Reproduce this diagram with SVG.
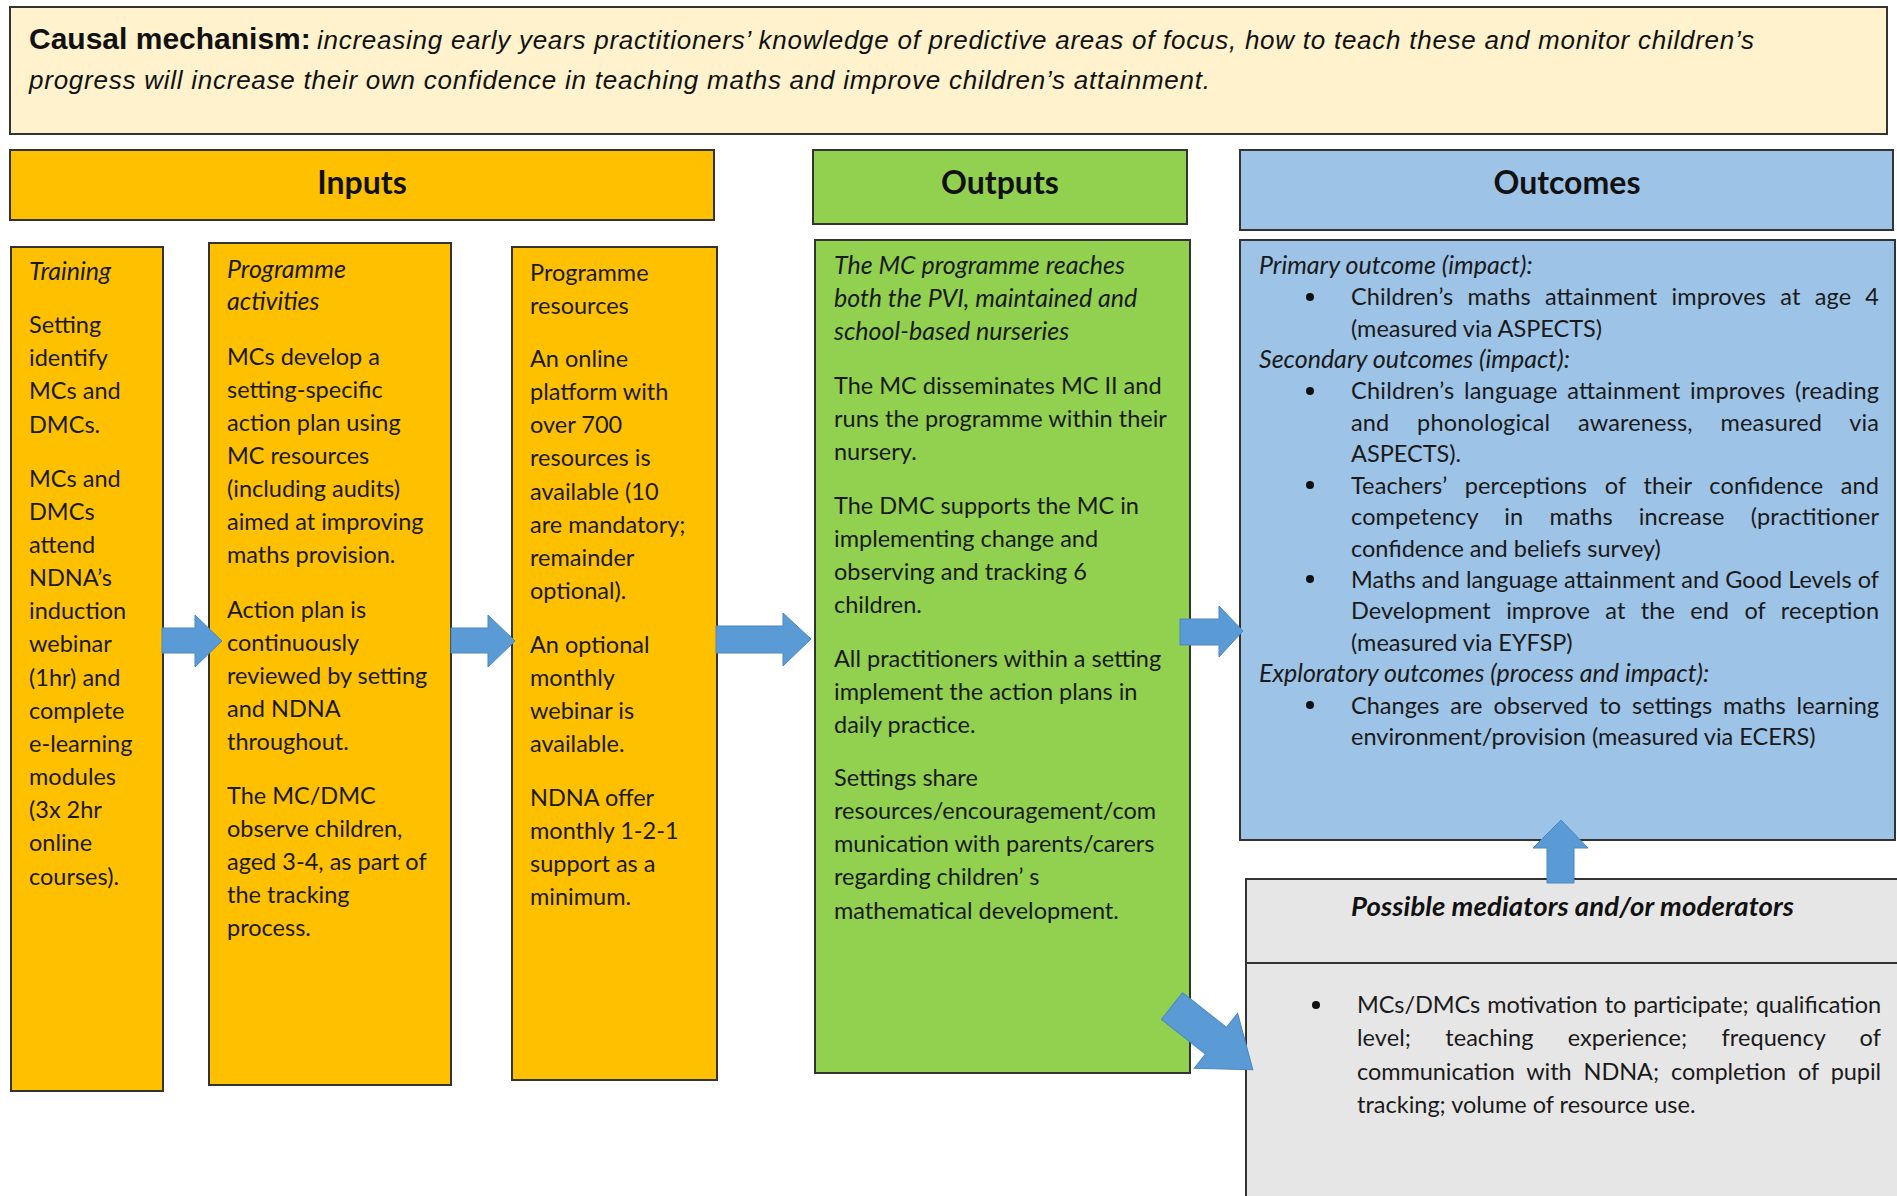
<svg xmlns="http://www.w3.org/2000/svg" width="1897" height="1196" viewBox="0 0 1897 1196">
<style>
.box{stroke:#333;stroke-width:2}
.t{font-family:Lato,"Liberation Sans",sans-serif;font-size:23.5px;fill:#1a1a1a}
.i{font-style:italic;font-size:25px}
.mt{font-family:Lato,"Liberation Sans",sans-serif;font-size:27.5px;font-weight:bold;font-style:italic;fill:#111}
.h{font-family:Lato,"Liberation Sans",sans-serif;font-size:32px;font-weight:bold;fill:#111;text-anchor:middle}
.top{font-family:"Liberation Sans",Arial,sans-serif;fill:#111}
.arrow{fill:#5B9BD5;stroke:#4a88c4;stroke-width:1}
</style>
<rect width="1897" height="1196" fill="#fff"/>

<g id="mechanism">
<rect class="box" x="10" y="7" width="1877" height="127" fill="#FFF2CC"/>
<text class="top" x="29" y="49" font-size="30" font-weight="bold">Causal mechanism:</text>
<text class="top" x="317" y="49" font-size="26" font-style="italic" textLength="1437">increasing early years practitioners’ knowledge of predictive areas of focus, how to teach these and monitor children’s</text>
<text class="top" x="29" y="89" font-size="26" font-style="italic" textLength="1181">progress will increase their own confidence in teaching maths and improve children’s attainment.</text>
</g>

<g id="inputs-header">
<rect class="box" x="10" y="150" width="704" height="70" fill="#FFC000"/>
<text class="h" x="362" y="194">Inputs</text>
</g>
<g id="outputs-header">
<rect class="box" x="813" y="150" width="374" height="74" fill="#92D050"/>
<text class="h" x="1000" y="194">Outputs</text>
</g>
<g id="outcomes-header">
<rect class="box" x="1240" y="150" width="653" height="80" fill="#9DC3E6"/>
<text class="h" x="1567" y="194">Outcomes</text>
</g>

<g id="training">
<rect class="box" x="11" y="247" width="152" height="844" fill="#FFC000"/>
<text class="t" x="29">
<tspan class="i" y="280">Training</tspan>
<tspan x="29" y="333">Setting</tspan>
<tspan x="29" y="366">identify</tspan>
<tspan x="29" y="399">MCs and</tspan>
<tspan x="29" y="433">DMCs.</tspan>
<tspan x="29" y="487">MCs and</tspan>
<tspan x="29" y="520">DMCs</tspan>
<tspan x="29" y="553">attend</tspan>
<tspan x="29" y="586">NDNA’s</tspan>
<tspan x="29" y="619">induction</tspan>
<tspan x="29" y="652">webinar</tspan>
<tspan x="29" y="686">(1hr) and</tspan>
<tspan x="29" y="719">complete</tspan>
<tspan x="29" y="752">e-learning</tspan>
<tspan x="29" y="785">modules</tspan>
<tspan x="29" y="818">(3x 2hr</tspan>
<tspan x="29" y="851">online</tspan>
<tspan x="29" y="885">courses).</tspan>
</text>
</g>

<g id="programme-activities">
<rect class="box" x="209" y="243" width="242" height="842" fill="#FFC000"/>
<text class="t" x="227">
<tspan class="i" y="278">Programme</tspan>
<tspan class="i" x="227" y="310">activities</tspan>
<tspan x="227" y="365">MCs develop a</tspan>
<tspan x="227" y="398">setting-specific</tspan>
<tspan x="227" y="431">action plan using</tspan>
<tspan x="227" y="464">MC resources</tspan>
<tspan x="227" y="497">(including audits)</tspan>
<tspan x="227" y="530">aimed at improving</tspan>
<tspan x="227" y="563">maths provision.</tspan>
<tspan x="227" y="618">Action plan is</tspan>
<tspan x="227" y="651">continuously</tspan>
<tspan x="227" y="684">reviewed by setting</tspan>
<tspan x="227" y="717">and NDNA</tspan>
<tspan x="227" y="750">throughout.</tspan>
<tspan x="227" y="804">The MC/DMC</tspan>
<tspan x="227" y="837">observe children,</tspan>
<tspan x="227" y="870">aged 3-4, as part of</tspan>
<tspan x="227" y="903">the tracking</tspan>
<tspan x="227" y="936">process.</tspan>
</text>
</g>

<g id="programme-resources">
<rect class="box" x="512" y="247" width="205" height="833" fill="#FFC000"/>
<text class="t" x="530">
<tspan y="281">Programme</tspan>
<tspan x="530" y="314">resources</tspan>
<tspan x="530" y="367">An online</tspan>
<tspan x="530" y="400">platform with</tspan>
<tspan x="530" y="433">over 700</tspan>
<tspan x="530" y="466">resources is</tspan>
<tspan x="530" y="500">available (10</tspan>
<tspan x="530" y="533">are mandatory;</tspan>
<tspan x="530" y="566">remainder</tspan>
<tspan x="530" y="599">optional).</tspan>
<tspan x="530" y="653">An optional</tspan>
<tspan x="530" y="686">monthly</tspan>
<tspan x="530" y="719">webinar is</tspan>
<tspan x="530" y="752">available.</tspan>
<tspan x="530" y="806">NDNA offer</tspan>
<tspan x="530" y="839">monthly 1-2-1</tspan>
<tspan x="530" y="872">support as a</tspan>
<tspan x="530" y="905">minimum.</tspan>
</text>
</g>

<g id="outputs">
<rect class="box" x="815" y="240" width="375" height="833" fill="#92D050"/>
<text class="t" x="834">
<tspan class="i" y="274">The MC programme reaches</tspan>
<tspan class="i" x="834" y="307">both the PVI, maintained and</tspan>
<tspan class="i" x="834" y="340">school-based nurseries</tspan>
<tspan x="834" y="394">The MC disseminates MC II and</tspan>
<tspan x="834" y="427">runs the programme within their</tspan>
<tspan x="834" y="460">nursery.</tspan>
<tspan x="834" y="514">The DMC supports the MC in</tspan>
<tspan x="834" y="547">implementing change and</tspan>
<tspan x="834" y="580">observing and tracking 6</tspan>
<tspan x="834" y="613">children.</tspan>
<tspan x="834" y="667">All practitioners within a setting</tspan>
<tspan x="834" y="700">implement the action plans in</tspan>
<tspan x="834" y="733">daily practice.</tspan>
<tspan x="834" y="786">Settings share</tspan>
<tspan x="834" y="819">resources/encouragement/com</tspan>
<tspan x="834" y="852">munication with parents/carers</tspan>
<tspan x="834" y="885">regarding children’ s</tspan>
<tspan x="834" y="919">mathematical development.</tspan>
</text>
</g>

<g id="outcomes">
<rect class="box" x="1240" y="240" width="655" height="600" fill="#9DC3E6"/>
<g fill="#111">
<circle cx="1310" cy="297" r="4"/>
<circle cx="1310" cy="391" r="4"/>
<circle cx="1310" cy="485" r="4"/>
<circle cx="1310" cy="579" r="4"/>
<circle cx="1310" cy="705" r="4"/>
</g>
<text class="t i" x="1259" y="274">Primary outcome (impact):</text>
<text class="t" x="1351" y="305" textLength="528" lengthAdjust="spacing" word-spacing="8">Children’s maths attainment improves at age 4</text>
<text class="t" x="1351" y="337">(measured via ASPECTS)</text>
<text class="t i" x="1259" y="368">Secondary outcomes (impact):</text>
<text class="t" x="1351" y="399" textLength="528" lengthAdjust="spacing" word-spacing="3.3">Children’s language attainment improves (reading</text>
<text class="t" x="1351" y="431" textLength="528" lengthAdjust="spacing" word-spacing="21.5">and phonological awareness, measured via</text>
<text class="t" x="1351" y="462">ASPECTS).</text>
<text class="t" x="1351" y="494" textLength="528" lengthAdjust="spacing" word-spacing="11.5">Teachers’ perceptions of their confidence and</text>
<text class="t" x="1351" y="525" textLength="528" lengthAdjust="spacing" word-spacing="20">competency in maths increase (practitioner</text>
<text class="t" x="1351" y="557">confidence and beliefs survey)</text>
<text class="t" x="1351" y="588" textLength="528" lengthAdjust="spacing">Maths and language attainment and Good Levels of</text>
<text class="t" x="1351" y="619" textLength="528" lengthAdjust="spacing" word-spacing="9.3">Development improve at the end of reception</text>
<text class="t" x="1351" y="651">(measured via EYFSP)</text>
<text class="t i" x="1259" y="682">Exploratory outcomes (process and impact):</text>
<text class="t" x="1351" y="714" textLength="528" lengthAdjust="spacing" word-spacing="4.9">Changes are observed to settings maths learning</text>
<text class="t" x="1351" y="745">environment/provision (measured via ECERS)</text>
</g>

<g id="mediators">
<rect class="box" x="1246" y="879" width="660" height="330" fill="#E7E6E6"/>
<line class="box" x1="1246" y1="963" x2="1897" y2="963"/>
<text class="mt" x="1351" y="916" textLength="443" lengthAdjust="spacing">Possible mediators and/or moderators</text>
<circle cx="1316" cy="1005" r="4" fill="#111"/>
<text class="t" x="1357" y="1013" textLength="524" lengthAdjust="spacing" word-spacing="1.2">MCs/DMCs motivation to participate; qualification</text>
<text class="t" x="1357" y="1046" textLength="524" lengthAdjust="spacing" word-spacing="28.2">level; teaching experience; frequency of</text>
<text class="t" x="1357" y="1080" textLength="524" lengthAdjust="spacing" word-spacing="6">communication with NDNA; completion of pupil</text>
<text class="t" x="1357" y="1113">tracking; volume of resource use.</text>
</g>

<g id="connectors">
<polygon class="arrow" points="162,628 195,628 195,615 222,641 195,667 195,653 162,653"/>
<polygon class="arrow" points="451,628 488,628 488,615 515,641 488,667 488,653 451,653"/>
<polygon class="arrow" points="716,626 783,626 783,613 811,639 783,666 783,653 716,653"/>
<polygon class="arrow" points="1180,619 1219,619 1219,606 1243,631 1219,657 1219,645 1180,645"/>
<polygon class="arrow" points="1547,883 1547,848 1533,848 1561,820 1588,848 1574,848 1574,883"/>
<polygon class="arrow" points="0,-17 56,-17 56,-35 103,0 56,35 56,17 0,17" transform="translate(1172,1006) rotate(38.3)"/>
</g>
</svg>
